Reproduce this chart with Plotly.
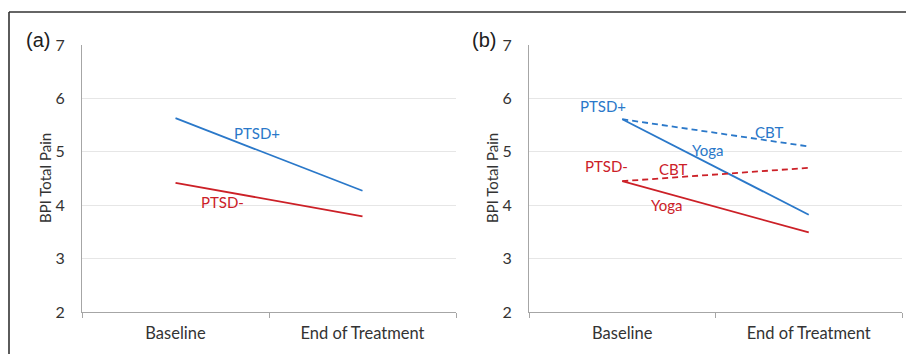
import plotly.graph_objects as go

categories = ["Baseline", "End of Treatment"]
y_ticks = [2, 3, 4, 5, 6, 7]

# Panel (a)
a_ptsd_pos = [5.63, 4.27]
a_ptsd_neg = [4.42, 3.79]

# Panel (b)
b_pos_yoga = [5.61, 3.82]
b_pos_cbt = [5.61, 5.10]
b_neg_yoga = [4.45, 3.49]
b_neg_cbt = [4.45, 4.70]

BLUE = "#2a78c9"
RED = "#cc2027"
FONT = "Lato, Open Sans, sans-serif"
TXT = "#333333"

W, H = 906, 354

def px_x(x):
    return x / W

def px_y(y):
    return 1 - y / H

fig = go.Figure()

def add_line(xa, ya, vals, color, dash):
    fig.add_trace(go.Scatter(x=categories, y=vals, mode="lines", xaxis=xa, yaxis=ya,
                             line=dict(color=color, width=1.8, dash=dash),
                             showlegend=False, hoverinfo="skip"))

add_line("x", "y", a_ptsd_pos, BLUE, "solid")
add_line("x", "y", a_ptsd_neg, RED, "solid")
add_line("x2", "y2", b_pos_cbt, BLUE, "6px,4px")
add_line("x2", "y2", b_pos_yoga, BLUE, "solid")
add_line("x2", "y2", b_neg_cbt, RED, "6px,4px")
add_line("x2", "y2", b_neg_yoga, RED, "solid")

ytop, ybot = 45, 312
axis_common = dict(showgrid=False, showline=True, linecolor="#a6a6a6", linewidth=1.2,
                   ticks="outside", tickson="boundaries", ticklen=5, tickcolor="#a6a6a6",
                   ticklabelstandoff=6,
                   tickfont=dict(family=FONT, size=16.5, color=TXT), automargin=False,
                   range=[-0.5, 1.5], type="category", fixedrange=True)
yaxis_common = dict(range=[2, 7], tickvals=y_ticks, showgrid=True, gridcolor="#e6e6e6",
                    gridwidth=1, showline=True, linecolor="#a6a6a6", linewidth=1.2,
                    ticks="outside", ticklen=13, tickcolor="rgba(0,0,0,0)", zeroline=False,
                    automargin=False,
                    tickfont=dict(family=FONT, size=16, color=TXT),
                    domain=[px_y(ybot), px_y(ytop)], fixedrange=True)

fig.update_layout(
    width=W, height=H,
    margin=dict(l=0, r=0, t=0, b=0),
    paper_bgcolor="white", plot_bgcolor="white",
    xaxis=dict(axis_common, domain=[px_x(82), px_x(456)], anchor="y"),
    yaxis=dict(yaxis_common, anchor="x"),
    xaxis2=dict(axis_common, domain=[px_x(529), px_x(902)], anchor="y2"),
    yaxis2=dict(yaxis_common, anchor="x2"),
)

def label(x, y, text, color, size=15, family=FONT, angle=0):
    fig.add_annotation(x=px_x(x), y=px_y(y), xref="paper", yref="paper", text=text,
                       showarrow=False, xanchor="center", yanchor="middle", textangle=angle,
                       font=dict(family=family, size=size, color=color))

label(257, 133, "PTSD+", BLUE)
label(222, 202, "PTSD-", RED)
label(603, 106, "PTSD+", BLUE)
label(769, 132, "CBT", BLUE)
label(707, 150, "Yoga", BLUE)
label(606, 166, "PTSD-", RED)
label(673, 169, "CBT", RED)
label(666, 205, "Yoga", RED)
label(38, 40, "(a)", "#202020", size=20, family="Liberation Sans, Arial, sans-serif")
label(484, 40, "(b)", "#202020", size=20, family="Liberation Sans, Arial, sans-serif")
label(45, 178, "BPI Total Pain", TXT, size=15, angle=-90)
label(492, 178, "BPI Total Pain", TXT, size=15, angle=-90)

# outer frame (top and left edges visible)
fig.add_shape(type="line", xref="paper", yref="paper", x0=px_x(9), x1=1.01, y0=px_y(12), y1=px_y(12),
              line=dict(color="#333333", width=1.6))
fig.add_shape(type="line", xref="paper", yref="paper", x0=px_x(9), x1=px_x(9), y0=px_y(12), y1=-0.01,
              line=dict(color="#333333", width=1.6))

fig.write_html("out.html", config={"displayModeBar": False},
               post_script="document.body.style.margin='0px';document.body.style.padding='0px';")
